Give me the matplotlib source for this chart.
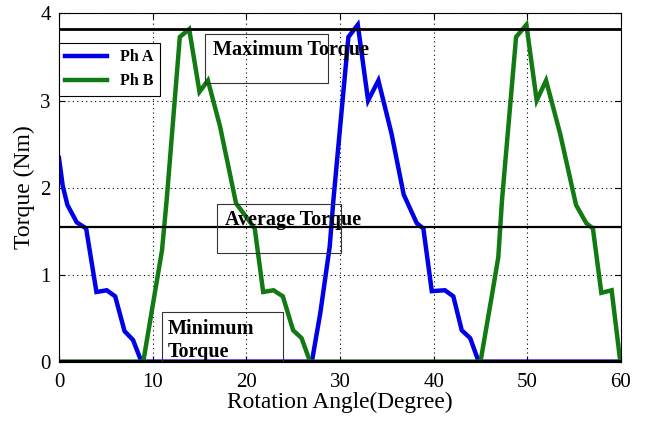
import numpy as np
import matplotlib
matplotlib.use("Agg")
import matplotlib.pyplot as plt
from matplotlib.patches import Rectangle

# rotation angle (deg) and torque (Nm)
angle_a = [0, 0.4, 0.9, 1.9, 2.9, 4.0, 5.1, 6.0, 7.0, 7.9, 8.8, 27.0, 27.9,
           28.9, 29.3, 30.9, 31.9, 33.0, 34.1, 35.5, 36.8, 38.2, 38.9, 39.8,
           41.2, 42.1, 43.0, 43.9, 44.8, 60.0]
torque_a = [2.34, 2.02, 1.80, 1.60, 1.53, 0.80, 0.82, 0.75, 0.35, 0.25, 0.0,
            0.0, 0.56, 1.32, 1.86, 3.73, 3.87, 3.00, 3.23, 2.62, 1.92, 1.59,
            1.53, 0.81, 0.82, 0.75, 0.36, 0.27, 0.0, 0.0]

angle_b = [0, 9.0, 11.0, 11.5, 12.9, 13.9, 15.0, 15.9, 17.2, 18.9, 20.0,
           20.9, 21.8, 22.9, 23.9, 25.0, 25.9, 26.8, 45.0, 46.2, 46.9, 47.3,
           48.8, 49.9, 51.0, 52.0, 53.5, 55.2, 56.3, 57.0, 57.9, 59.0, 59.9]
torque_b = [0.0, 0.0, 1.28, 1.86, 3.73, 3.82, 3.10, 3.23, 2.70, 1.82, 1.66,
            1.53, 0.80, 0.82, 0.75, 0.36, 0.27, 0.0, 0.0, 0.75, 1.20, 1.86,
            3.73, 3.87, 3.00, 3.23, 2.62, 1.80, 1.59, 1.53, 0.79, 0.82, 0.02]

max_torque = 3.82
avg_torque = 1.55
min_torque = 0.0

serif = "Liberation Serif"

fig = plt.figure(figsize=(6.46, 4.21), dpi=100)
ax = fig.add_axes([0.0913, 0.141, 0.8700, 0.827])

ax.plot(angle_a, torque_a, color="#0000e8", lw=3.2, label="Ph A",
        solid_joinstyle="miter")
ax.plot(angle_b, torque_b, color="#127a12", lw=3.2, label="Ph B",
        solid_joinstyle="miter")

ax.axhline(max_torque, color="k", lw=2)
ax.axhline(avg_torque, color="k", lw=1.6)
ax.axhline(min_torque, color="k", lw=3)

ax.set_xlim(0, 60)
ax.set_ylim(0, 4)
ax.set_xticks(np.arange(0, 61, 10))
ax.set_yticks(np.arange(0, 5, 1))
ax.grid(True, color="k", ls=(0, (1, 3)), lw=0.8)
ax.tick_params(direction="in", top=True, right=True, length=4,
               labelsize=15)
ax.tick_params(axis="x", pad=8)
ax.tick_params(axis="y", pad=6)
for lab in ax.get_xticklabels() + ax.get_yticklabels():
    lab.set_family(serif)
for sp in ax.spines.values():
    sp.set_linewidth(0.8)

ax.set_xlabel("Rotation Angle(Degree)", family=serif, fontsize=16.8,
              labelpad=0)
ax.set_ylabel("Torque (Nm)", family=serif, fontsize=17, labelpad=4)

leg = ax.legend(loc="upper left", bbox_to_anchor=(0.0, 0.915),
                prop={"family": serif, "weight": "bold", "size": 11.5},
                fancybox=False, edgecolor="k", framealpha=1,
                handlelength=2.6, borderaxespad=0, labelspacing=0.5,
                borderpad=0.4)
leg.get_frame().set_linewidth(0.8)

# annotation boxes
boxes = [(15.6, 3.20, 13.1, 0.56), (16.9, 1.245, 13.2, 0.565),
         (10.96, 0.0, 13.0, 0.57)]
for x0, y0, w, h in boxes:
    ax.add_patch(Rectangle((x0, y0), w, h, fill=False, ec="#333333",
                           lw=0.8, zorder=4))

txt = dict(family=serif, weight="bold", fontsize=14.5, va="center",
           ha="left", zorder=5)
ax.text(16.4, 3.58, "Maximum Torque", **txt)
ax.text(17.7, 1.63, "Average Torque", **txt)
ax.text(11.6, 0.38, "Minimum", **txt)
ax.text(11.6, 0.115, "Torque", **txt)

fig.savefig("out.png", dpi=100)
